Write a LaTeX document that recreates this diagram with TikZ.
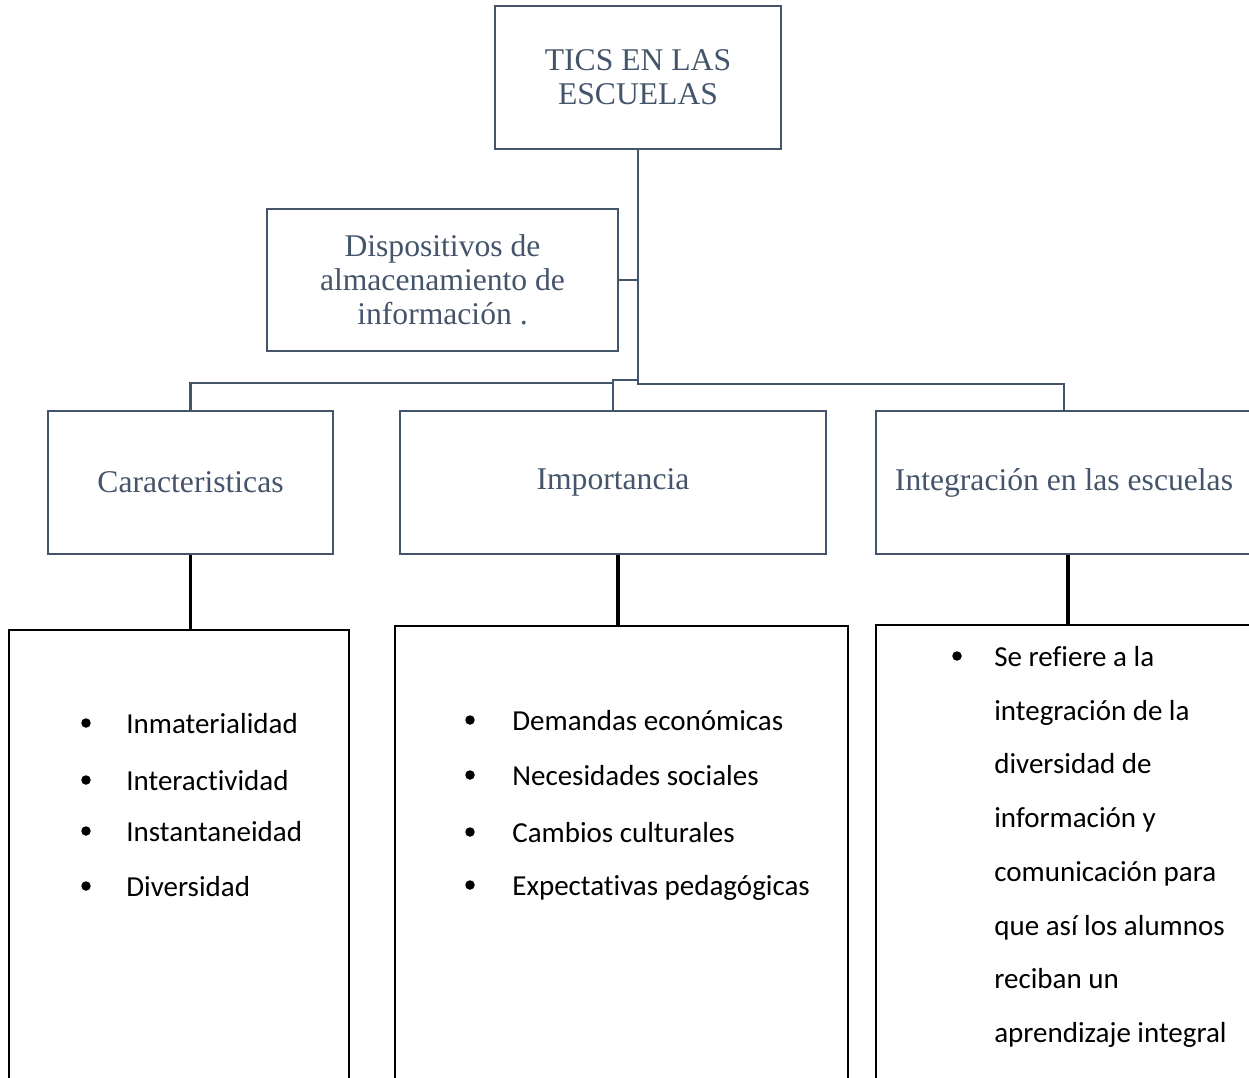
\documentclass[tikz,border=0pt]{standalone}
\usepackage{fontspec}
\setmainfont{Liberation Serif}
\newfontfamily\listfont[Ligatures={NoCommon,NoRare,NoDiscretionary}]{Carlito}
\usetikzlibrary{positioning}
\definecolor{slate}{RGB}{68,84,106}

\tikzset{
  topbox/.style={draw=slate, line width=1.2pt, text=slate, align=center,
    font=\fontsize{18}{19.3}\selectfont, inner sep=0pt},
  listbox/.style={draw=black, line width=1.4pt, inner sep=0pt},
  link/.style={draw=slate, line width=1.2pt},
  stem/.style={draw=black, line width=1.8pt},
  bullet/.style={circle, fill=black, inner sep=0pt, minimum size=0.19cm},
  entry/.style={anchor=base west, font=\listfont\fontsize{16.5}{18}\selectfont, inner sep=0pt},
}

\begin{document}
\begin{tikzpicture}[x=0.02cm, y=-0.02cm]
  \clip (0,0) rectangle (1249,1078);

  % Upper boxes
  \node[topbox, minimum width=5.72cm, minimum height=2.86cm] (tics) at (638,77.5) {TICS EN LAS\\ESCUELAS};
  \node[topbox, minimum width=7.02cm, minimum height=2.84cm] (disp) at (442.5,280) {Dispositivos de\\almacenamiento de\\información .};

  % Second row
  \node[topbox, minimum width=5.7cm, minimum height=2.86cm] (car) at (190.5,482.5) {Caracteristicas};
  \node[topbox, minimum width=8.52cm, minimum height=2.86cm] (imp) at (613,482.5) {Importancia};
  \node[topbox, minimum width=7.52cm, minimum height=2.86cm] (integ) at (1064,482.5) {Integración en las escuelas};

  % Connectors
  \coordinate (hub) at (638,384);
  \coordinate (knee) at (613,380);
  \draw[link] (tics.south) -- (hub) -| (integ.north);
  \draw[link] (disp.east) -- (disp.east -| hub);
  \draw[link] (imp.north) -- (knee) -- (knee -| hub);
  \draw[link] (car.north) |- (imp.north |- 0,383);

  % List boxes
  \node[listbox, minimum width=6.8cm, minimum height=9.4cm] (lcar) at (179,865) {};
  \node[listbox, minimum width=9.06cm, minimum height=9.48cm] (limp) at (621.5,863) {};
  \node[listbox, minimum width=7.88cm, minimum height=9.5cm] (linteg) at (1073,862.5) {};

  \draw[stem] (car.south) -- (car.south |- lcar.north);
  \draw[stem] ([xshift=0.1cm]imp.south) -- ([xshift=0.1cm]imp.south |- limp.north);
  \draw[stem] ([xshift=0.08cm]integ.south) -- ([xshift=0.08cm]integ.south |- linteg.north);

  % Lists
  \foreach \y/\txt [count=\i] in {723/Inmaterialidad, 780/Interactividad, 831/Instantaneidad, 886/Diversidad} {
    \node[bullet] (cb\i) at (86,\y) {};
    \node[entry] (ct\i) at (126,\y+10) {\txt};
  }
  \foreach \y/\txt [count=\i] in {720/Demandas económicas, 775/Necesidades sociales, 832/Cambios culturales, 885/Expectativas pedagógicas} {
    \node[bullet] (ib\i) at (470,\y) {};
    \node[entry] (it\i) at (512,\y+10) {\txt};
  }
  \node[bullet] (gb1) at (957,656) {};
  \foreach \y/\txt [count=\i] in {656/Se refiere a la, 710/integración de la, 763/diversidad de, 817/información y, 871/comunicación para, 925/que así los alumnos, 978/reciban un, 1032/aprendizaje integral} {
    \node[entry] (gt\i) at (994,\y+10) {\txt};
  }
\end{tikzpicture}
\end{document}
